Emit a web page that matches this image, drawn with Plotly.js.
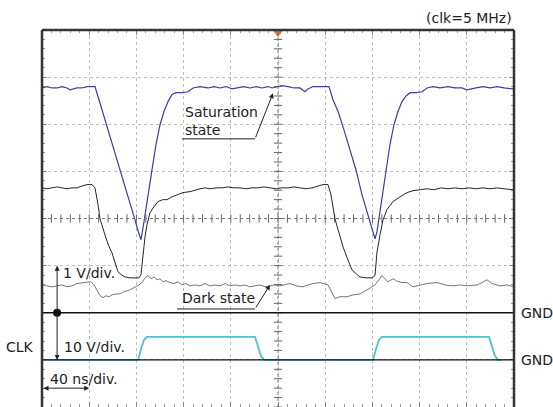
<!DOCTYPE html>
<html>
<head>
<meta charset="utf-8">
<script src="https://cdn.plot.ly/plotly-3.0.1.min.js"></script>
<style>html,body{margin:0;padding:0;background:#fff;}#plot{width:553px;height:407px;}</style>
</head>
<body>
<div id="plot"></div>
<script>
// ---- Data (time in ns, voltage in V) ----
const satTime = [0,4.2,8.5,12.7,16.9,21.2,23.7,26.3,29.7,33.9,38.1,42.4,44.9,48.3,53.4,57.6,61.9,66.1,70.3,74.6,78.8,81.4,83.9,85.6,88.1,90.7,93.2,96.6,100.0,103.4,106.8,110.2,113.6,119.5,123.7,128.0,133.9,140.7,145.8,150.8,155.9,161.0,166.1,171.2,176.3,181.4,186.4,191.5,194.9,199.2,203.4,208.5,213.6,218.6,222.9,225.4,229.7,233.9,238.1,243.2,246.6,250.9,255.9,261.0,266.1,271.2,276.3,279.7,282.2,283.9,286.5,289.0,291.5,294.9,298.3,301.7,305.1,308.5,311.9,317.0,322.0,326.3,331.4,337.3,344.1,350.0,355.9,360.2,367.8,373.7,379.7,385.6,391.5,396.6,400];
const satVolt = [4.77,4.80,4.77,4.77,4.80,4.77,4.73,4.75,4.77,4.77,4.80,4.80,4.80,4.52,4.10,3.71,3.40,3.03,2.69,2.36,1.97,1.74,1.55,1.80,2.23,2.65,3.03,3.57,3.99,4.27,4.48,4.63,4.67,4.67,4.69,4.77,4.80,4.77,4.80,4.77,4.80,4.75,4.77,4.80,4.77,4.80,4.77,4.80,4.77,4.80,4.82,4.80,4.77,4.77,4.69,4.75,4.80,4.80,4.80,4.80,4.52,4.27,3.88,3.46,3.03,2.50,2.08,1.76,1.57,1.72,2.14,2.61,3.03,3.57,3.99,4.27,4.48,4.60,4.67,4.67,4.69,4.77,4.80,4.77,4.80,4.77,4.77,4.73,4.77,4.80,4.77,4.80,4.77,4.75,4.75];

const midTime = [0,4.2,8.5,12.7,16.9,21.2,25.4,29.7,33.9,38.1,42.4,44.9,47.5,49.2,52.5,55.9,59.3,61.9,64.4,67.0,70.3,74.6,78.8,82.2,83.9,85.6,87.3,89.0,91.5,94.9,98.3,102.5,105.9,110.2,114.4,119.5,125.4,130.5,133.9,138.1,142.4,147.5,152.5,157.6,162.7,167.8,172.9,178.0,183.1,188.1,193.2,198.3,203.4,208.5,213.6,218.6,223.7,228.8,233.9,238.1,242.4,244.9,248.3,251.7,255.1,258.5,262.7,266.1,269.5,274.6,279.7,282.2,283.9,286.5,289.0,292.4,297.5,303.4,309.3,314.4,320.3,326.3,332.2,338.1,344.1,350.0,355.9,362.0,367.8,373.7,379.7,385.6,391.5,396.6,400];
const midVolt = [2.65,2.63,2.65,2.67,2.65,2.63,2.65,2.65,2.69,2.72,2.72,2.65,2.29,1.99,1.72,1.46,1.27,1.06,0.87,0.81,0.76,0.74,0.74,0.74,0.81,1.23,1.61,1.87,2.12,2.25,2.36,2.40,2.40,2.46,2.50,2.55,2.57,2.61,2.63,2.65,2.63,2.65,2.65,2.67,2.65,2.65,2.63,2.65,2.65,2.67,2.65,2.63,2.65,2.65,2.67,2.65,2.63,2.65,2.69,2.72,2.72,2.50,1.99,1.68,1.40,1.17,0.91,0.83,0.76,0.74,0.74,0.79,1.29,1.66,1.97,2.19,2.36,2.46,2.55,2.59,2.61,2.63,2.61,2.65,2.63,2.65,2.63,2.65,2.63,2.65,2.63,2.65,2.63,2.61,2.61];

const darkTime = [0,4.2,8.5,12.7,16.9,21.2,25.4,29.7,33.9,38.1,41.5,44.1,46.6,49.2,51.7,54.2,56.8,59.3,62.7,66.1,69.5,72.9,76.3,79.7,82.2,84.7,87.3,89.8,92.4,94.9,97.5,100.0,102.5,105.1,108.5,111.9,115.3,118.6,122.0,125.4,129.7,133.9,138.1,142.4,146.6,150.8,155.1,159.3,163.6,167.8,172.0,176.3,180.5,184.7,189.0,193.2,197.5,201.7,210.2,215.3,221.2,225.4,229.7,235.6,242.4,244.9,248.3,252.5,258.5,263.6,269.5,274.6,278.0,282.2,285.6,288.1,290.7,293.2,297.5,301.7,305.9,309.3,314.4,320.3,326.3,334.8,341.5,348.3,354.2,360.2,368.6,372.9,377.1,381.4,388.1,394.1,400];
const darkVolt = [0.59,0.57,0.55,0.57,0.59,0.55,0.57,0.62,0.64,0.66,0.66,0.59,0.49,0.36,0.32,0.36,0.34,0.38,0.40,0.40,0.45,0.47,0.51,0.55,0.59,0.64,0.74,0.79,0.72,0.76,0.70,0.72,0.66,0.68,0.64,0.62,0.66,0.59,0.62,0.57,0.59,0.57,0.62,0.57,0.59,0.57,0.62,0.57,0.59,0.57,0.59,0.55,0.57,0.59,0.55,0.57,0.59,0.57,0.62,0.57,0.55,0.59,0.62,0.64,0.59,0.47,0.30,0.34,0.34,0.38,0.40,0.47,0.53,0.59,0.70,0.79,0.72,0.66,0.72,0.66,0.64,0.64,0.55,0.59,0.62,0.64,0.59,0.57,0.59,0.57,0.59,0.64,0.70,0.62,0.57,0.59,0.55];

const clkTime = [0,81.4,83.9,86.4,89.0,180.5,183.1,185.6,188.1,280.5,283.0,285.6,288.1,378.8,381.4,383.9,386.4,389.0];
const clkVolt = [0,0,2.3,4.2,4.9,4.9,2.8,0.8,0,0,2.3,4.2,4.9,4.9,2.8,0.8,0,0];

// ---- Scope settings ----
const NS_PER_DIV = 40;
const CH1_V_PER_DIV = 1, CH1_GND_DIV = 2;
const CLK_V_PER_DIV = 10, CLK_GND_DIV = 1;
const X_DIVS = 10, Y_DIVS = 8;

const toDiv1 = v => v.map(x => CH1_GND_DIV + x / CH1_V_PER_DIV);
const toDivClk = v => v.map(x => CLK_GND_DIV + x / CLK_V_PER_DIV);

const xMax = NS_PER_DIV * X_DIVS;
const xc = xMax / 2, yc = Y_DIVS / 2;

// crosshair tick positions (1/5 division)
const cxTicks = [], cyTicks = [];
for (let i = 0; i <= X_DIVS * 5; i++) cxTicks.push(i * NS_PER_DIV / 5);
for (let i = 0; i <= Y_DIVS * 5; i++) cyTicks.push(i / 5);

const FONT = 'DejaVu Sans';
const INK = '#222';

const traces = [
  {x: cxTicks, y: cxTicks.map(() => yc), mode: 'markers', hoverinfo: 'skip',
   marker: {symbol: 'line-ns', size: 6, line: {width: 1, color: '#666'}}},
  {x: cyTicks.map(() => xc), y: cyTicks, mode: 'markers', hoverinfo: 'skip',
   marker: {symbol: 'line-ew', size: 6, line: {width: 1, color: '#666'}}},
  {x: clkTime, y: toDivClk(clkVolt), mode: 'lines', line: {color: '#4cc3cf', width: 1.8}},
  {x: darkTime, y: toDiv1(darkVolt), mode: 'lines', line: {color: '#777777', width: 1}},
  {x: midTime, y: toDiv1(midVolt), mode: 'lines', line: {color: '#262626', width: 1}},
  {x: satTime, y: toDiv1(satVolt), mode: 'lines', line: {color: '#3c3fa3', width: 1.2}},
  {x: [NS_PER_DIV * 0.32], y: [CH1_GND_DIV], mode: 'markers', hoverinfo: 'skip',
   marker: {size: 8, color: '#111'}},
  {x: [xc], y: [Y_DIVS - 0.045], mode: 'markers', hoverinfo: 'skip', cliponaxis: false,
   marker: {symbol: 'triangle-down', size: 10, color: '#e8702a'}}
];

const axisBase = {
  showgrid: true, gridcolor: '#bdbdbd', griddash: 'dot', gridwidth: 1,
  zeroline: false, showticklabels: false, showline: false,
  ticks: 'inside', ticklen: 5, tickcolor: '#888', mirror: 'ticks', fixedrange: true
};

const arrowCol = '#222';
const layout = {
  width: 553, height: 407,
  margin: {l: 42, r: 39, t: 30, b: 0},
  paper_bgcolor: '#fff', plot_bgcolor: '#fff',
  showlegend: false, hovermode: false,
  font: {family: FONT, size: 14, color: INK},
  xaxis: Object.assign({}, axisBase, {range: [0, xMax], dtick: NS_PER_DIV,
    minor: {dtick: NS_PER_DIV / 5, ticks: 'inside', ticklen: 3, tickcolor: '#999', showgrid: false}}),
  yaxis: Object.assign({}, axisBase, {range: [0, Y_DIVS], dtick: 1,
    minor: {dtick: 0.2, ticks: 'inside', ticklen: 3, tickcolor: '#999', showgrid: false}}),
  shapes: [
    // center crosshair
    {type: 'line', xref: 'x', yref: 'paper', x0: xc, x1: xc, y0: 0, y1: 1, line: {color: '#777', width: 1, dash: 'dot'}},
    {type: 'line', xref: 'paper', yref: 'y', x0: 0, x1: 1, y0: yc, y1: yc, line: {color: '#777', width: 1, dash: 'dot'}},
    // GND lines
    {type: 'line', xref: 'paper', yref: 'y', x0: 0, x1: 1, y0: CH1_GND_DIV, y1: CH1_GND_DIV, line: {color: '#111', width: 1.3}},
    {type: 'line', xref: 'paper', yref: 'y', x0: 0, x1: 1, y0: CLK_GND_DIV, y1: CLK_GND_DIV, line: {color: '#111', width: 1.3}},
    // frame
    {type: 'line', xref: 'paper', yref: 'paper', x0: 0, x1: 0, y0: 0, y1: 1, line: {color: '#333', width: 2.5}},
    {type: 'line', xref: 'paper', yref: 'paper', x0: 0, x1: 1, y0: 1, y1: 1, line: {color: '#333', width: 2.5}},
    {type: 'line', xref: 'paper', yref: 'paper', x0: 1, x1: 1, y0: 0, y1: 1, line: {color: '#333', width: 2.5}},
    // label underlines
    {type: 'line', xref: 'x', yref: 'y', x0: 118.6, x1: 180.5, y0: 5.69, y1: 5.69, line: {color: arrowCol, width: 1}},
    {type: 'line', xref: 'x', yref: 'y', x0: 114.4, x1: 180.5, y0: 2.08, y1: 2.08, line: {color: arrowCol, width: 1}}
  ],
  annotations: [
    {xref: 'paper', yref: 'paper', x: 1, y: 1, xanchor: 'right', yanchor: 'bottom', yshift: 2,
     text: '(clk=5 MHz)', showarrow: false},
    {xref: 'x', yref: 'y', x: 119.5, y: 6.06, xanchor: 'left', yanchor: 'middle', align: 'left',
     text: 'Saturation<br>state', showarrow: false},
    {xref: 'x', yref: 'y', x: 195.8, y: 6.66, axref: 'x', ayref: 'y', ax: 180.5, ay: 5.69,
     text: '', showarrow: true, arrowhead: 2, arrowsize: 1, arrowwidth: 1, arrowcolor: arrowCol},
    {xref: 'x', yref: 'y', x: 117.0, y: 2.31, xanchor: 'left', yanchor: 'middle',
     text: 'Dark state', showarrow: false},
    {xref: 'x', yref: 'y', x: 193.2, y: 2.59, axref: 'x', ayref: 'y', ax: 180.5, ay: 2.08,
     text: '', showarrow: true, arrowhead: 2, arrowsize: 1, arrowwidth: 1, arrowcolor: arrowCol},
    {xref: 'x', yref: 'y', x: 16.1, y: 2.84, xanchor: 'left', yanchor: 'middle',
     text: '1 V/div.', showarrow: false},
    {xref: 'x', yref: 'y', x: 16.9, y: 1.27, xanchor: 'left', yanchor: 'middle',
     text: '10 V/div.', showarrow: false},
    {xref: 'x', yref: 'y', x: 5.1, y: 0.59, xanchor: 'left', yanchor: 'middle',
     text: '40 ns/div.', showarrow: false},
    {xref: 'paper', yref: 'y', x: 0, y: 1.27, xanchor: 'right', yanchor: 'middle', xshift: -6,
     text: 'CLK', showarrow: false},
    {xref: 'paper', yref: 'y', x: 1, y: CH1_GND_DIV, xanchor: 'left', yanchor: 'middle', xshift: 5,
     text: 'GND', showarrow: false},
    {xref: 'paper', yref: 'y', x: 1, y: CLK_GND_DIV, xanchor: 'left', yanchor: 'middle', xshift: 5,
     text: 'GND', showarrow: false},
    // scale arrows
    {xref: 'x', yref: 'y', x: NS_PER_DIV * 0.32, y: CH1_GND_DIV + 1, axref: 'x', ayref: 'y',
     ax: NS_PER_DIV * 0.32, ay: CH1_GND_DIV, text: '', showarrow: true, arrowhead: 2, arrowsize: 1,
     arrowwidth: 1, arrowcolor: arrowCol},
    {xref: 'x', yref: 'y', x: NS_PER_DIV * 0.32, y: CLK_GND_DIV, axref: 'x', ayref: 'y',
     ax: NS_PER_DIV * 0.32, ay: CH1_GND_DIV, text: '', showarrow: true, arrowhead: 2, arrowsize: 1,
     arrowwidth: 1, arrowcolor: arrowCol},
    {xref: 'x', yref: 'y', x: NS_PER_DIV, y: 0.40, axref: 'x', ayref: 'y',
     ax: 0, ay: 0.40, text: '', showarrow: true, arrowhead: 2, startarrowhead: 2, arrowside: 'end+start',
     arrowsize: 1, arrowwidth: 1, arrowcolor: arrowCol}
  ]
};

Plotly.newPlot('plot', traces, layout, {staticPlot: true, displayModeBar: false});
</script>
</body>
</html>
